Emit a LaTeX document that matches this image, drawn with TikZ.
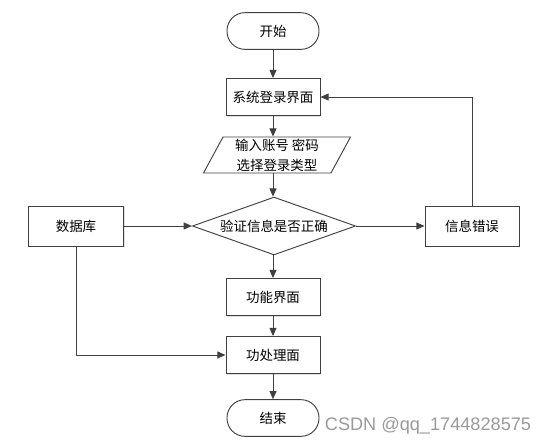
\documentclass[tikz,border=0pt]{standalone}
\usepackage{fontspec}
\usepackage{tikz}
\usepackage{xcolor}
\usetikzlibrary{arrows.meta,shapes.geometric,shadows}
\newfontfamily\cjk{Noto Sans CJK SC}
\setsansfont{Liberation Sans}

\definecolor{linegray}{HTML}{404040}
\definecolor{markgray}{HTML}{9A9A9A}

\begin{document}
\begin{tikzpicture} [font=\cjk\fontsize{11.5}{17}\selectfont,
		line/.style={draw=linegray, line width=0.8pt},
		arr/.style={line, -{Triangle[length=7pt,width=6pt]}},
		box/.style={rectangle, draw=linegray, line width=0.8pt, fill=white, minimum width=2.82cm, minimum height=1.11cm,
			drop shadow={shadow xshift=1pt, shadow yshift=-1pt, opacity=0.25}},
		term/.style={rectangle, rounded corners=0.54cm, draw=linegray, line width=0.8pt, fill=white, minimum width=2.76cm, minimum height=1.1cm},
		inbox/.style={trapezium, trapezium left angle=65, trapezium right angle=115, trapezium stretches=true,
			draw=linegray, line width=0.8pt, minimum width=4.44cm, minimum height=1.08cm, align=center, inner sep=0pt},
		check/.style={diamond, aspect=2.82, draw=linegray, line width=0.8pt, inner xsep=0.3cm, inner ysep=0pt}]
	\useasboundingbox (0, 0) rectangle (16.41, -13.38);
		\node[term] (start) at (8.19, -0.93) {开始};
		\node[box] (login) at (8.19, -2.91) {系统登录界面};
		\node[inbox] (input) at (8.31, -4.65) {输入账号 密码\\选择登录类型};
		\node[check] (check) at (8.22, -6.78) {验证信息是否正确};
			\node[box, minimum width=2.85cm, minimum height=1.2cm] (db) at (2.28, -6.78) {数据库};
			\node[box, minimum height=1.2cm] (err) at (14.16, -6.78) {信息错误};
		\node[box] (func) at (8.19, -8.91) {功能界面};
		\node[box] (proc) at (8.19, -10.65) {功处理面};
		\node[term] (stop) at (8.19, -12.54) {结束};
	\node[text=markgray, font=\sffamily\fontsize{15.5}{18}\selectfont] (mark) at (12.84, -12.78) {CSDN @qq\_1744828575};
	% main column
		\draw[arr] (start) -- (login);
		\draw[arr] (login.south) -- (login.south |- input.north);
		\draw[arr] (login.south |- input.south) -- (login.south |- check.north);
		\draw[arr] (check.south -| func) -- (func);
		\draw[arr] (func) -- (proc);
		\draw[arr] (proc) -- (stop);
	% side branches
		\draw[arr] (db) -- (check);
		\draw[arr] (check) -- (err);
		\draw[arr] (err.north) |- (login.east);
		\draw[arr] (db.south) |- (proc.west);
\end{tikzpicture}
\end{document}
